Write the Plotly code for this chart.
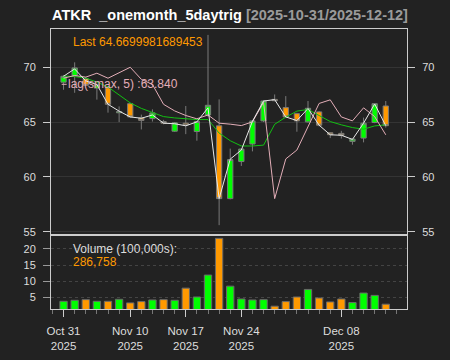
import plotly.graph_objects as go

# ---------------- data ----------------
dates = ["2025-10-31", "2025-11-03", "2025-11-04", "2025-11-05", "2025-11-06", "2025-11-07",
         "2025-11-10", "2025-11-11", "2025-11-12", "2025-11-13", "2025-11-14",
         "2025-11-17", "2025-11-18", "2025-11-19", "2025-11-20", "2025-11-21",
         "2025-11-24", "2025-11-25", "2025-11-26", "2025-11-28",
         "2025-12-01", "2025-12-02", "2025-12-03", "2025-12-04", "2025-12-05",
         "2025-12-08", "2025-12-09", "2025-12-10", "2025-12-11", "2025-12-12"]

opens  = [68.64, 69.24, 68.95, 68.10, 68.13, 65.85, 66.68, 65.38, 65.32, 65.05,
          64.17, 64.90, 64.14, 65.65, 64.66, 58.02, 61.40, 63.00, 65.11, 67.07,
          66.32, 65.77, 65.02, 65.93, 64.03, 63.97, 63.24, 63.54, 64.96, 66.47]
highs  = [69.30, 70.45, 69.10, 68.50, 68.30, 66.43, 66.75, 65.68, 66.16, 65.20,
          65.00, 66.47, 65.10, 72.95, 67.07, 62.58, 62.60, 65.20, 67.00, 67.52,
          67.37, 65.85, 66.92, 66.00, 64.05, 64.20, 63.50, 65.41, 66.70, 66.92]
lows   = [67.95, 67.67, 68.30, 67.05, 65.86, 65.00, 65.40, 64.33, 65.05, 64.80,
          64.10, 63.90, 63.30, 65.50, 55.60, 57.95, 61.00, 62.33, 65.00, 66.90,
          65.40, 64.12, 64.95, 64.60, 63.54, 63.50, 62.94, 63.15, 64.90, 64.50]
closes = [69.18, 69.94, 68.35, 68.40, 66.62, 65.95, 65.47, 65.15, 65.84, 64.90,
          64.93, 64.75, 65.05, 66.53, 58.02, 61.58, 62.54, 65.11, 66.92, 66.95,
          65.47, 65.11, 66.26, 64.72, 63.85, 63.80, 63.45, 64.90, 66.68, 64.6699981689453]

smax   = [69.18, 69.85, 68.75, 68.43, 66.62, 66.00, 65.47, 65.35, 65.65, 64.90,
          64.85, 64.66, 65.02, 66.30, 58.02, 61.62, 62.45, 65.07, 66.92, 67.05,
          65.47, 65.14, 66.24, 64.72, 63.84, 63.80, 63.42, 64.90, 66.65, 64.67]
lag_smax = [69.00, 69.25, 69.10, 69.46, 69.00, 69.50, 70.00, 68.90, 68.43, 66.62,
            66.02, 65.60, 65.30, 65.65, 64.90, 64.81, 64.68, 65.02, 66.80, 58.02,
            61.64, 62.45, 64.60, 66.70, 67.03, 65.47, 65.11, 66.30, 65.50, 63.84]
sma    = [69.20, 69.15, 69.00, 68.65, 68.20, 67.45, 66.75, 66.25, 65.85, 65.50,
          65.38, 65.30, 65.23, 65.23, 64.00, 63.30, 62.82, 62.82, 62.90, 64.80,
          65.45, 66.00, 66.15, 65.60, 65.05, 64.75, 64.50, 64.35, 64.65, 64.75]

volume = [3.76, 4.07, 4.28, 3.76, 3.76, 4.38, 3.27, 3.67, 4.18, 4.28,
          4.07, 7.85, 5.10, 11.90, 23.30, 8.46, 4.48, 4.18, 4.28, 2.24,
          3.67, 5.10, 7.44, 4.79, 3.57, 4.48, 3.36, 6.32, 5.60, 2.86758]  # in 100,000s

label_dates = ["2025-10-31", "2025-11-10", "2025-11-17", "2025-11-24", "2025-12-08"]
label_text = ["Oct 31<br>2025", "Nov 10<br>2025", "Nov 17<br>2025", "Nov 24<br>2025", "Dec 08<br>2025"]
price_ticks = [55, 60, 65, 70]
vol_ticks = [5, 10, 15, 20]

# ---------------- style ----------------
BG = "#222222"
UP = "#00FF00"
DN = "#FF9900"
BORDER = "#cccccc"
TXT = "#dddddd"
PINK = "#e3aeb8"

idx = list(range(len(dates)))
tick_idx = [dates.index(d) for d in label_dates]
bar_cols = [UP if c >= o else DN for o, c in zip(opens, closes)]

fig = go.Figure()

fig.add_trace(go.Candlestick(
    x=idx, open=opens, high=highs, low=lows, close=closes,
    xaxis="x2", yaxis="y",
    increasing=dict(line=dict(color="#7a7a7a", width=1), fillcolor=UP),
    decreasing=dict(line=dict(color="#7a7a7a", width=1), fillcolor=DN),
    whiskerwidth=0, showlegend=False, hoverinfo="skip"))

fig.add_trace(go.Scatter(x=idx, y=sma, mode="lines", xaxis="x2", yaxis="y",
                         line=dict(color="#12c012", width=1), showlegend=False, hoverinfo="skip"))
fig.add_trace(go.Scatter(x=idx, y=lag_smax, mode="lines", xaxis="x2", yaxis="y",
                         line=dict(color=PINK, width=1), showlegend=False, hoverinfo="skip"))
fig.add_trace(go.Scatter(x=idx, y=smax, mode="lines", xaxis="x2", yaxis="y",
                         line=dict(color="#e8e8e8", width=1), showlegend=False, hoverinfo="skip"))
# invisible trace to carry the right-hand price axis
fig.add_trace(go.Scatter(x=idx, y=closes, mode="lines", xaxis="x2", yaxis="y3",
                         line=dict(color="rgba(0,0,0,0)", width=0), showlegend=False, hoverinfo="skip"))

fig.add_trace(go.Bar(x=idx, y=volume, xaxis="x", yaxis="y2",
                     marker=dict(color=bar_cols, line=dict(color="#6a6a6a", width=1)),
                     showlegend=False, hoverinfo="skip"))

xr = [-1.13, 30.91]
main_dom = [0.2654, 1.0]
vol_dom = [0.0, 0.2654]
tickfont = dict(family="Liberation Sans, Arial, sans-serif", size=11, color=TXT)

fig.update_layout(
    width=450, height=360,
    margin=dict(l=51, r=43, t=29, b=51),
    paper_bgcolor=BG, plot_bgcolor=BG,
    bargap=0.34,
    boxgap=0.32,
    font=dict(family="Liberation Sans, Arial, sans-serif", color=TXT),
    xaxis=dict(anchor="y2", domain=[0, 1], range=xr, automargin=False,
               tickmode="array", tickvals=tick_idx, ticktext=label_text,
               ticks="outside", ticklen=7, tickcolor=BORDER, tickwidth=1,
               ticklabelstandoff=4,
               minor=dict(tickmode="linear", tick0=0, dtick=1, ticks="outside",
                          ticklen=4, tickcolor="#777777", showgrid=False),
               tickfont=dict(family="Liberation Sans, Arial, sans-serif", size=11.5, color=TXT),
               showline=True, mirror=True, linecolor=BORDER, linewidth=1,
               showgrid=False, zeroline=False, rangeslider=dict(visible=False), fixedrange=True),
    xaxis2=dict(anchor="y", matches="x", range=xr, showticklabels=False, ticks="", automargin=False,
                showline=True, mirror=True, linecolor=BORDER, linewidth=1,
                showgrid=False, zeroline=False, rangeslider=dict(visible=False)),
    yaxis=dict(anchor="x2", domain=main_dom, range=[54.73, 73.49], automargin=False,
               tickmode="array", tickvals=price_ticks,
               ticks="outside", ticklen=7, tickcolor=BORDER, ticklabelstandoff=5,
               tickfont=tickfont,
               showline=True, mirror=True, linecolor=BORDER, linewidth=1,
               showgrid=True, gridcolor="#343434", gridwidth=1, zeroline=False),
    yaxis3=dict(anchor="x2", overlaying="y", side="right", range=[54.73, 73.49], automargin=False,
                tickmode="array", tickvals=price_ticks,
                ticks="outside", ticklen=7, tickcolor=BORDER, ticklabelstandoff=5,
                tickfont=tickfont, showline=False, showgrid=False, zeroline=False),
    yaxis2=dict(anchor="x", domain=vol_dom, range=[1.37, 24.44], automargin=False,
                tickmode="array", tickvals=vol_ticks,
                ticks="outside", ticklen=7, tickcolor="#999999", ticklabelstandoff=5,
                tickfont=tickfont,
                showline=True, mirror=True, linecolor=BORDER, linewidth=1,
                showgrid=True, gridcolor="#444444", griddash="dot", gridwidth=1, zeroline=False),
)

F = "Liberation Sans, Arial, sans-serif"
ann = []
ann.append(dict(xref="paper", yref="paper", x=-0.003, y=1.05, xanchor="left", yanchor="middle",
                showarrow=False,
                text="<b>ATKR&nbsp; _onemonth_5daytrig</b> <span style='color:#9a9a9a'><b>[%s/%s]</b></span>"
                     % (dates[0], dates[-1]),
                font=dict(family=F, size=14.5, color="#ffffff")))
ann.append(dict(xref="paper", yref="paper", x=0.057, y=0.9525, xanchor="left", yanchor="middle",
                showarrow=False, text="Last %s" % repr(closes[-1]),
                font=dict(family=F, size=12, color=DN)))
ann.append(dict(xref="paper", yref="paper", x=0.041, y=0.8025, xanchor="left", yanchor="middle",
                showarrow=False, text="lag(smax, 5) :%.3f" % lag_smax[-1],
                font=dict(family=F, size=12, color=PINK)))
ann.append(dict(xref="paper", yref="paper", x=0.055, y=0.2143, xanchor="left", yanchor="middle",
                showarrow=False, text="Volume (100,000s):",
                font=dict(family=F, size=12, color=TXT)))
ann.append(dict(xref="paper", yref="paper", x=0.055, y=0.1668, xanchor="left", yanchor="middle",
                showarrow=False, text="{:,}".format(round(volume[-1] * 100000)),
                font=dict(family=F, size=12, color=DN)))
fig.update_layout(annotations=ann)

# small legend line segment before the lag(smax) label
fig.add_shape(type="line", xref="paper", yref="paper", x0=0.030, x1=0.044, y0=0.8025, y1=0.8025,
              line=dict(color=PINK, width=1))

fig.write_html("out.html")
